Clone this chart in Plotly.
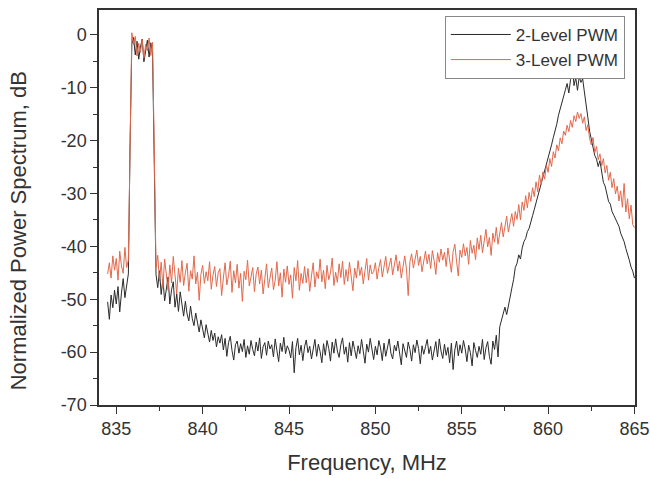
import numpy as np
import plotly.graph_objects as go

# Frequency sweep grid (MHz): first sample and sample spacing
FREQ_START = 834.5
FREQ_STEP = 0.1

# 2-Level PWM spectrum (dB), samples 834.5 ... 865.0 MHz
level2_db = [
    -50.5, -53.8, -49.2, -51.6, -48.3,
    -50.9, -47.6, -52.4, -48.8, -46.1, -49.7, -47.0, -45.2, -20.5, -1.8,
    -0.5, -3.8, -1.2, -4.6, -2.3, -0.8, -5.1, -2.7, -1.0, -4.2,
    -1.5, -3.6, -24.0, -45.3, -47.8, -44.6, -49.1, -46.2, -50.3, -47.5,
    -45.8, -50.9, -48.2, -46.7, -51.5, -49.0, -52.3, -48.6, -51.0, -53.2,
    -50.4, -52.8, -54.1, -51.3, -53.7, -55.0, -52.6, -54.8, -56.2, -53.9,
    -55.5, -57.3, -54.8, -56.6, -58.1, -55.9, -57.8, -56.4, -59.0, -57.1,
    -58.3, -56.7, -59.6, -57.4, -60.8, -58.2, -57.0, -59.7, -61.5, -58.6,
    -57.9, -60.2, -58.4, -59.9, -57.6, -61.0, -58.8, -60.4, -57.8, -59.5,
    -60.7, -58.1, -59.8, -57.3, -61.2, -59.0, -58.2, -60.6, -57.9, -59.4,
    -58.6, -60.9, -57.5, -59.7, -61.8, -58.3, -59.9, -57.2, -60.3, -58.8,
    -59.6, -61.1, -58.0, -63.9, -59.2, -57.4, -60.5, -58.7, -61.6, -59.0,
    -57.7, -60.1, -58.9, -61.3, -59.4, -57.6, -60.8, -58.5, -59.9, -62.0,
    -58.4, -60.6, -57.8, -59.3, -61.7, -58.1, -60.2, -57.5, -59.8, -61.0,
    -58.6, -57.3, -60.4, -59.0, -61.9, -58.2, -60.7, -57.9, -59.5, -61.2,
    -58.8, -60.3, -57.6, -59.9, -62.1, -58.5, -60.0, -57.4, -59.6, -61.4,
    -58.9, -60.5, -57.8, -59.2, -61.6, -58.3, -60.8, -59.1, -57.5, -60.2,
    -61.3, -58.7, -59.8, -57.9, -60.6, -62.4, -58.4, -59.7, -61.0, -58.1,
    -59.5, -61.7, -58.6, -60.1, -57.7, -59.3, -62.2, -58.8, -60.4, -59.0,
    -57.6, -60.3, -58.9, -61.5, -59.4, -58.0, -60.9, -57.5, -59.8, -61.2,
    -58.5, -60.6, -59.1, -62.0, -58.3, -63.3, -59.6, -57.9, -60.7, -58.6,
    -60.2, -57.8, -59.4, -61.8, -58.7, -60.1, -62.6, -58.2, -59.7, -61.0,
    -58.9, -60.4, -57.6, -61.4, -59.2, -58.0, -60.8, -62.3, -57.9, -59.5,
    -56.8, -60.9, -55.2, -54.0, -52.6, -51.5, -52.9, -50.8, -49.6, -47.9,
    -46.3, -44.0, -43.2, -41.6, -42.4, -40.3, -39.1, -38.5, -37.2, -36.6,
    -35.1, -34.2, -33.0, -31.8, -30.5, -29.6, -28.1, -26.9, -25.7, -24.4,
    -23.6, -22.1, -20.8, -19.4, -18.3, -16.9, -15.2, -14.1, -12.6, -11.5,
    -10.4, -9.2, -11.0, -8.4, -5.8, -9.6, -8.1, -10.5, -7.9, -9.0,
    -8.3, -10.8, -12.9, -15.6, -18.2, -19.7, -21.3, -22.8, -23.5, -24.9,
    -23.8, -26.4, -27.9, -28.6, -30.2, -31.5, -32.0, -33.4, -34.1, -34.8,
    -35.6, -36.2, -37.5, -38.3, -39.1, -40.4, -41.8, -42.6, -43.9, -44.7,
    -46.0,
]

# 3-Level PWM spectrum (dB), samples 834.5 ... 865.0 MHz
level3_db = [
    -45.2, -43.1, -46.0, -41.8, -44.5,
    -42.3, -46.4, -40.9, -43.7, -45.1, -40.2, -44.0, -42.6, -18.0, 0.4,
    -1.9, -0.3, -4.0, -1.6, -3.3, -0.9, -4.4, -1.8, -3.0, -0.6,
    -3.9, -1.4, -22.0, -44.1, -41.7, -46.5, -43.0, -47.8, -42.4, -45.6,
    -48.3, -43.5, -46.9, -41.9, -45.2, -49.0, -44.1, -46.8, -42.7, -47.4,
    -45.0, -43.2, -48.5, -44.6, -46.2, -41.8, -47.1, -44.9, -50.2, -45.3,
    -43.6, -47.0, -44.8, -46.5, -42.9, -48.1, -45.4, -43.8, -47.6, -45.0,
    -44.2, -49.3, -46.0, -43.1, -47.3, -45.5, -42.8, -48.7, -44.6, -46.9,
    -43.4, -47.9, -45.1, -50.4, -44.7, -46.3, -42.6, -47.5, -45.8, -44.0,
    -48.6, -45.2, -43.9, -47.1, -44.5, -49.0, -46.1, -43.3, -47.8, -45.6,
    -44.1, -48.2, -46.4, -42.9, -47.5, -45.0, -49.6, -44.3, -46.8, -43.7,
    -47.2, -45.4, -49.8, -44.0, -46.5, -42.7, -48.3, -45.1, -47.0, -43.8,
    -46.9, -44.2, -48.5, -45.6, -43.1, -47.7, -44.8, -46.1, -42.4, -46.7,
    -44.5, -48.0, -43.6, -46.3, -45.0, -42.2, -47.4, -44.9, -46.8, -43.3,
    -45.9, -42.8, -47.2, -44.4, -46.6, -43.0, -45.7, -48.4, -44.1, -46.0,
    -42.7, -45.5, -43.9, -47.1, -44.6, -42.3, -46.4, -43.5, -45.2, -44.8,
    -43.1, -46.2, -44.0, -42.5, -45.8, -43.4, -41.9, -45.1, -43.7, -42.2,
    -45.4, -43.0, -41.6, -44.7, -42.8, -46.0, -43.5, -41.8, -44.3, -49.3,
    -42.9, -41.4, -44.1, -42.0, -40.7, -43.6, -41.9, -44.8, -42.4, -40.9,
    -43.3, -41.5, -44.2, -40.8, -42.7, -45.3, -41.2, -43.0, -40.5, -42.6,
    -41.1, -43.8, -40.3, -42.5, -44.9, -41.0, -39.6, -42.8, -45.6, -40.7,
    -42.1, -39.5, -41.8, -40.2, -43.4, -38.9, -41.3, -39.8, -42.5, -38.4,
    -40.6, -37.9, -41.2, -39.0, -36.8, -40.1, -38.3, -41.7, -37.5, -39.2,
    -36.4, -39.6, -37.1, -35.5, -38.2, -36.0, -34.3, -37.3, -35.1, -33.8,
    -36.2, -33.4, -34.9, -32.1, -35.0, -31.6, -33.2, -30.4, -32.7, -29.8,
    -31.5, -28.9, -30.6, -27.8, -29.7, -26.5, -28.4, -25.9, -27.3, -24.6,
    -26.0, -23.4, -24.9, -22.1, -23.3, -20.8, -21.9, -19.5, -20.6, -18.2,
    -19.0, -17.1, -18.3, -16.2, -17.5, -15.3, -16.4, -14.6, -15.8, -14.9,
    -16.7, -15.5, -18.1, -17.0, -19.6, -20.8, -19.4, -22.3, -21.1, -23.6,
    -22.5, -24.8, -23.4, -26.1, -24.7, -27.5, -26.0, -28.9, -27.2, -30.1,
    -28.6, -31.4, -29.5, -32.6, -28.1, -33.5, -31.0, -34.8, -32.2, -35.9,
    -36.5,
]

series_names = ["2-Level PWM", "3-Level PWM"]
x_tick_vals = [835, 840, 845, 850, 855, 860, 865]
x_tick_text = ["835", "840", "845", "850", "855", "860", "865"]
y_tick_vals = [-70, -60, -50, -40, -30, -20, -10, 0]
y_tick_text = ["-70", "-60", "-50", "-40", "-30", "-20", "-10", "0"]
x_title = "Frequency, MHz"
y_title = "Normalized Power Spectrum, dB"

freq2 = np.round(FREQ_START + FREQ_STEP * np.arange(len(level2_db)), 2)
freq3 = np.round(FREQ_START + FREQ_STEP * np.arange(len(level3_db)), 2)

FONT = "Liberation Sans, Arial, sans-serif"

fig = go.Figure()
fig.add_trace(go.Scatter(x=freq2, y=level2_db, mode="lines", name=series_names[0],
                         line=dict(color="#2a2a2a", width=1)))
fig.add_trace(go.Scatter(x=freq3, y=level3_db, mode="lines", name=series_names[1],
                         line=dict(color="#e2694c", width=1)))

axis_common = dict(
    showline=True, linecolor="#333333", linewidth=1.5, mirror=True,
    ticks="outside", ticklen=7, tickwidth=1.2, tickcolor="#333333",
    showgrid=False, zeroline=False,
    tickfont=dict(family=FONT, size=18, color="#333333"),
)

fig.update_xaxes(
    range=[834, 865.03], tickvals=x_tick_vals, ticktext=x_tick_text,
    minor=dict(ticks="outside", ticklen=4, dtick=2.5, tickcolor="#333333"),
    title=dict(text=x_title, font=dict(family=FONT, size=22, color="#333333"), standoff=16),
    **axis_common,
)
fig.update_yaxes(
    range=[-70, 4.7], tickvals=y_tick_vals, ticktext=y_tick_text,
    minor=dict(ticks="outside", ticklen=4, dtick=5, tickcolor="#333333"),
    **axis_common,
)

# y-axis title placed as rotated text (sits a bit below the plot centre in the original)
fig.add_annotation(
    text=y_title, textangle=-90, xref="paper", yref="paper",
    x=-0.151, y=0.44, xanchor="center", yanchor="middle", showarrow=False,
    font=dict(family=FONT, size=22, color="#333333"),
)

fig.update_layout(
    width=650, height=479,
    margin=dict(l=99, r=15, t=10, b=74, autoexpand=False),
    paper_bgcolor="white", plot_bgcolor="white",
    showlegend=True,
    legend=dict(x=0.981, y=0.985, xanchor="right", yanchor="top",
                bgcolor="white", bordercolor="#888888", borderwidth=1,
                font=dict(family=FONT, size=17, color="#333333"),
                tracegroupgap=0, itemwidth=60),
)

fig.write_html("out.html", config={"displayModeBar": False},
               post_script="document.body.style.margin='0';")
